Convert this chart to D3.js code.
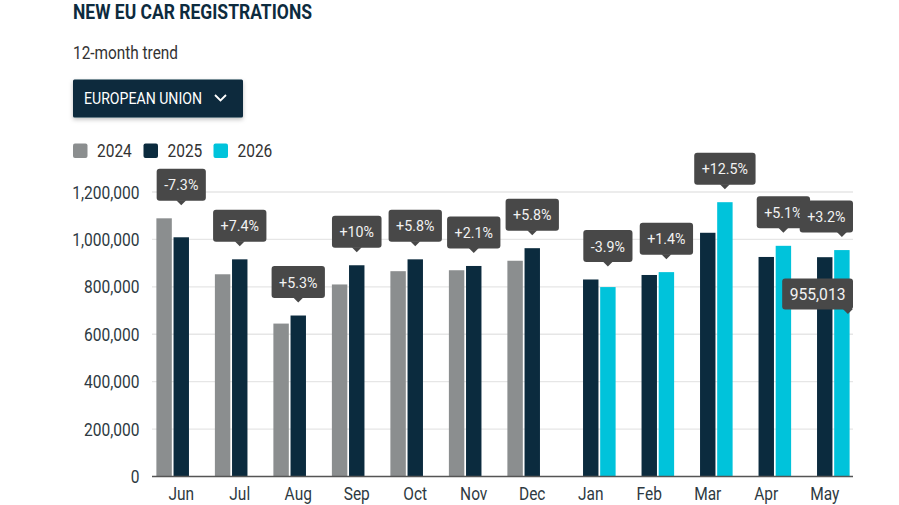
<!DOCTYPE html>
<html>
<head>
<meta charset="utf-8">
<script src="https://cdn.jsdelivr.net/npm/d3@7"></script>
<style>
  body { margin: 0; background: #fff; }
  svg { display: block; font-family: Roboto, "Noto Sans", sans-serif; }
</style>
</head>
<body>
<div id="chart"></div>
<script>
// ---------------------------------------------------------------- data
const months = ["Jun", "Jul", "Aug", "Sep", "Oct", "Nov", "Dec", "Jan", "Feb", "Mar", "Apr", "May"]
const years = ["2024", "2025", "2026"]
const reg2024 = [1089000, 853000, 645000, 810000, 866000, 870000, 910000, null, null, null, null, null]
const reg2025 = [1009000, 916000, 679000, 891000, 916000, 888000, 963000, 831000, 850000, 1028000, 926000, 925000]
const reg2026 = [null, null, null, null, null, null, null, 799000, 862000, 1157000, 973000, 955013]
const changeLabels = ["-7.3%", "+7.4%", "+5.3%", "+10%", "+5.8%", "+2.1%", "+5.8%", "-3.9%", "+1.4%", "+12.5%", "+5.1%", "+3.2%"]
const yTicks = [0, 200000, 400000, 600000, 800000, 1000000, 1200000]
const hoverMonth = "May"
const hoverYear = "2026"

// ---------------------------------------------------------------- constants
const WIDTH = 899
const HEIGHT = 505
const PLOT_LEFT = 152
const PLOT_RIGHT = 853
const PLOT_TOP = 192
const PLOT_BOTTOM = 476.5

const COLORS = { "2024": "#8b8e8f", "2025": "#0b2b3e", "2026": "#00c3db" }
const BOX_FILL = "#484848"
const NAVY = "#0b2a3d"

const series = { "2024": reg2024, "2025": reg2025, "2026": reg2026 }
const rows = []
months.forEach((m, i) => {
  years.forEach(yr => {
    if (series[yr][i] != null) rows.push({ month: m, year: yr, value: series[yr][i] })
  })
})

// squeeze text horizontally, the original uses a condensed face
function condense(sel, k) {
  sel.each(function () {
    const w = this.getComputedTextLength()
    d3.select(this).attr("textLength", w * k).attr("lengthAdjust", "spacingAndGlyphs")
  })
}

const svg = d3.select("#chart").append("svg")
  .attr("width", WIDTH)
  .attr("height", HEIGHT)

const defs = svg.append("defs")
const shadow = defs.append("filter").attr("id", "btnShadow")
  .attr("x", "-10%").attr("y", "-20%").attr("width", "120%").attr("height", "160%")
shadow.append("feDropShadow")
  .attr("dx", 0).attr("dy", 2).attr("stdDeviation", 2)
  .attr("flood-color", "#000").attr("flood-opacity", 0.25)

// ---------------------------------------------------------------- header
svg.append("text")
  .attr("x", 73).attr("y", 19)
  .attr("font-size", 19.5).attr("font-weight", 700)
  .attr("fill", "#0d2b3e")
  .attr("textLength", 239).attr("lengthAdjust", "spacingAndGlyphs")
  .text("NEW EU CAR REGISTRATIONS")

svg.append("text")
  .attr("x", 73).attr("y", 58.5)
  .attr("font-size", 18)
  .attr("fill", "#333")
  .attr("textLength", 105).attr("lengthAdjust", "spacingAndGlyphs")
  .text("12-month trend")

const btn = svg.append("g")
btn.append("rect")
  .attr("x", 73).attr("y", 79.5)
  .attr("width", 170).attr("height", 38)
  .attr("rx", 1.5)
  .attr("fill", NAVY)
  .attr("filter", "url(#btnShadow)")
btn.append("text")
  .attr("x", 84).attr("y", 104.3)
  .attr("font-size", 17)
  .attr("fill", "#fff")
  .attr("textLength", 118).attr("lengthAdjust", "spacingAndGlyphs")
  .text("EUROPEAN UNION")
btn.append("path")
  .attr("d", "M215,95 L220.5,100.5 L226,95")
  .attr("fill", "none").attr("stroke", "#fff").attr("stroke-width", 1.8)

// ---------------------------------------------------------------- legend
const legendX = [73, 143.5, 213.5]
const legend = svg.append("g")
years.forEach((yr, i) => {
  legend.append("rect")
    .attr("x", legendX[i]).attr("y", 143.5)
    .attr("width", 14.5).attr("height", 14.5)
    .attr("rx", 2)
    .attr("fill", COLORS[yr])
  legend.append("text")
    .attr("x", legendX[i] + 24).attr("y", 157)
    .attr("font-size", 18)
    .attr("fill", "#333")
    .text(yr)
    .call(condense, 0.86)
})

// ---------------------------------------------------------------- scales
const x0 = d3.scaleBand()
  .domain(months)
  .range([PLOT_LEFT, PLOT_RIGHT + 1])
  .paddingInner(0.15)
  .paddingOuter(0.075)

const x1 = d3.scaleBand()
  .domain(years)
  .range([0, x0.bandwidth()])
  .paddingInner(0.1)

const y = d3.scaleLinear()
  .domain([0, 1200000])
  .range([PLOT_BOTTOM, PLOT_TOP])

// gridlines + y labels
const grid = svg.append("g")
grid.selectAll("line")
  .data(yTicks.filter(d => d > 0))
  .join("line")
  .attr("x1", PLOT_LEFT).attr("x2", PLOT_RIGHT)
  .attr("y1", d => y(d)).attr("y2", d => y(d))
  .attr("stroke", "#e6e6e6").attr("stroke-width", 1.3)

svg.append("g").selectAll("text")
  .data(yTicks)
  .join("text")
  .attr("x", 139.5)
  .attr("y", d => y(d))
  .attr("dy", "0.36em")
  .attr("text-anchor", "end")
  .attr("font-size", 18.5)
  .attr("fill", "#2e3a42")
  .text(d => d3.format(",")(d))
  .call(condense, 0.84)

// ---------------------------------------------------------------- bars
svg.append("g").selectAll("rect")
  .data(rows)
  .join("rect")
  .attr("x", d => x0(d.month) + x1(d.year))
  .attr("y", d => y(d.value))
  .attr("width", x1.bandwidth())
  .attr("height", d => y(0) - y(d.value))
  .attr("fill", d => COLORS[d.year])

// baseline
svg.append("line")
  .attr("x1", PLOT_LEFT).attr("x2", PLOT_RIGHT)
  .attr("y1", y(0)).attr("y2", y(0))
  .attr("stroke", "#555").attr("stroke-width", 1.6)

// x labels
svg.append("g").selectAll("text")
  .data(months)
  .join("text")
  .attr("x", d => x0(d) + x0.bandwidth() / 2)
  .attr("y", 500)
  .attr("text-anchor", "middle")
  .attr("font-size", 18)
  .attr("fill", "#2e3a42")
  .text(d => d)
  .call(condense, 0.86)

// ---------------------------------------------------------------- change boxes
function drawBox(g, label, cx, tipY, fontSize, boxH, tipDx) {
  const t = g.append("text")
    .attr("font-size", fontSize)
    .attr("fill", "#f2f2f2")
    .attr("text-anchor", "middle")
    .text(label)
  condense(t, 0.92)
  const tw = +t.attr("textLength")
  const bw = tw + 15
  const bottom = tipY - 4.5
  let left = cx - bw / 2
  if (left + bw > PLOT_RIGHT) left = PLOT_RIGHT - bw
  if (left < PLOT_LEFT) left = PLOT_LEFT
  const px = cx + (tipDx || 0)
  g.insert("rect", "text")
    .attr("x", left).attr("y", bottom - boxH)
    .attr("width", bw).attr("height", boxH)
    .attr("rx", 3)
    .attr("fill", BOX_FILL)
  g.insert("path", "text")
    .attr("d", `M${px - 5},${bottom - 0.5} L${px + 5},${bottom - 0.5} L${px},${tipY} Z`)
    .attr("fill", BOX_FILL)
  t.attr("x", left + bw / 2).attr("y", bottom - boxH / 2 + fontSize * 0.36)
}

const boxes = svg.append("g")
months.forEach((m, i) => {
  const latest = reg2026[i] != null ? "2026" : "2025"
  const prev = latest === "2026" ? "2025" : "2024"
  const top = Math.max(series[latest][i], series[prev][i])
  const cx = x0(m) + x1(latest) + x1.bandwidth() / 2
  drawBox(boxes.append("g"), changeLabels[i], cx, y(top) - 13, 15.5, 32)
})

// hover tooltip on the latest bar
const hi = months.indexOf(hoverMonth)
const hv = series[hoverYear][hi]
const hx = x0(hoverMonth) + x1(hoverYear) + x1.bandwidth() / 2
drawBox(svg.append("g"), d3.format(",")(hv), hx, y(hv) + 64, 17, 31, 6)
</script>
</body>
</html>
